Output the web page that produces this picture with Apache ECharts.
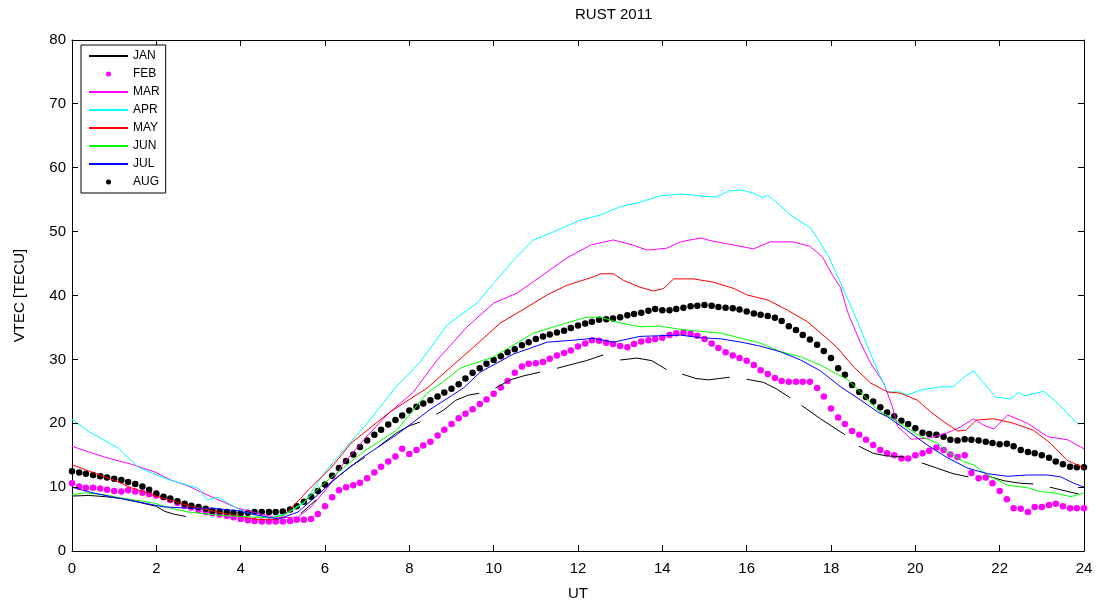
<!DOCTYPE html>
<html><head><meta charset="utf-8">
<script src="https://cdn.jsdelivr.net/npm/echarts/dist/echarts.min.js"></script>
<style>html,body{margin:0;padding:0;background:#fff}#c{width:1096px;height:606px}</style>
</head><body><div id="c"></div>
<script>
const FONT = 'Liberation Sans, Arial, sans-serif';
const months = ['JAN','FEB','MAR','APR','MAY','JUN','JUL','AUG'];
const xTicks = [0,2,4,6,8,10,12,14,16,18,20,22,24];
const yTicks = [0,10,20,30,40,50,60,70,80];

// JAN: broken line (null = gap)
const janH = [0,0.4,0.8,1.2,1.6,2.0,2.2,2.4,2.7, 2.9, 5.43,5.79, 5.9, 5.98,6.3,6.6,6.95, 7.1, 7.26,7.7,8.0,8.26, 8.45, 8.64,8.8,9.1,9.4,9.66, 9.85, 10.04,10.4,10.7,11.1, 11.3, 11.5,11.9,12.2,12.6, 12.8, 13.0,13.4,13.75,14.1, 14.3, 14.47,14.8,15.1,15.35,15.6, 15.8, 16.0,16.4,16.7,17.03, 17.15, 17.3,17.75,18.33, 18.5, 18.66,19.0,19.3,19.75, 19.95, 20.15,20.5,20.9,21.26, 21.5, 21.74,22.1,22.5,22.8, 23.0, 23.19,23.5,23.88];
const janV = [8.6,8.7,8.5,8.2,7.6,7.0,6.2,5.8,5.4, null, 5.9,8.0, null, 9.9,11.6,13.2,14.7, null, 16.3,18.5,19.6,20.2, null, 21.4,22.0,23.6,24.4,24.7, null, 25.5,26.8,27.4,28.0, null, 28.6,29.3,29.8,30.7, null, 29.9,30.2,29.8,28.4, null, 27.7,27.0,26.8,27.0,27.2, null, 26.9,26.4,25.4,24.0, null, 22.8,20.7,18.2, null, 16.4,15.3,14.9,14.7, null, 13.8,13.0,12.1,11.6, null, 11.7,11.0,10.6,10.5, null, 10.0,9.5,8.9];

// FEB and AUG: dotted series, 10-minute samples
const dotH = [0,0.17,0.33,0.5,0.67,0.83, 1,1.17,1.33,1.5,1.67,1.83, 2,2.17,2.33,2.5,2.67,2.83, 3,3.17,3.33,3.5,3.67,3.83, 4,4.17,4.33,4.5,4.67,4.83, 5,5.17,5.33,5.5,5.67,5.83, 6,6.17,6.33,6.5,6.67,6.83, 7,7.17,7.33,7.5,7.67,7.83, 8,8.17,8.33,8.5,8.67,8.83, 9,9.17,9.33,9.5,9.67,9.83, 10,10.17,10.33,10.5,10.67,10.83, 11,11.17,11.33,11.5,11.67,11.83, 12,12.17,12.33,12.5,12.67,12.83, 13,13.17,13.33,13.5,13.67,13.83, 14,14.17,14.33,14.5,14.67,14.83, 15,15.17,15.33,15.5,15.67,15.83, 16,16.17,16.33,16.5,16.67,16.83, 17,17.17,17.33,17.5,17.67,17.83, 18,18.17,18.33,18.5,18.67,18.83, 19,19.17,19.33,19.5,19.67,19.83, 20,20.17,20.33,20.5,20.67,20.83, 21,21.17,21.33,21.5,21.67,21.83, 22,22.17,22.33,22.5,22.67,22.83, 23,23.17,23.33,23.5,23.67,23.83, 24];
const febV = [10.6,10.1,9.9,9.9,9.8,9.6, 9.4,9.3,9.5,9.3,9.1,8.9, 8.7,8.4,8.0,7.5,7.1,6.8, 6.4,6.1,5.9,5.7,5.5,5.3, 5.0,4.8,4.7,4.6,4.6,4.6, 4.6,4.7,4.9,4.9,5.0,5.8, 7.0,8.4,9.5,10.0,10.3,10.7, 11.4,12.3,13.2,14.0,14.8,16.0, 15.2,15.8,16.5,17.1,18.1,19.0, 19.9,20.8,21.5,22.2,23.0,23.7, 24.6,25.6,26.6,27.9,28.9,29.3, 29.4,29.6,30.1,30.6,31.0,31.4, 32.0,32.5,33.0,32.9,32.6,32.4, 32.1,31.9,32.4,32.8,33.0,33.2, 33.4,33.8,34.1,34.2,34.0,33.7, 33.2,32.5,31.8,31.1,30.6,30.2, 29.8,29.1,28.3,27.7,27.1,26.6, 26.5,26.5,26.5,26.5,25.5,24.2, 22.3,20.9,19.9,18.8,18.2,17.4, 16.6,15.8,15.3,15.0,14.5,14.5, 15.0,15.3,15.7,16.2,15.8,15.1, 14.7,15.0,12.2,11.4,11.5,10.6, 9.4,8.1,6.7,6.6,6.1,6.9, 6.9,7.2,7.4,7.0,6.7,6.7, 6.7];
const augV = [12.5,12.3,12.1,11.9,11.7,11.5, 11.3,11.1,10.8,10.5,10.1,9.6, 9.0,8.5,8.2,7.8,7.4,7.1, 6.9,6.6,6.3,6.2,6.1,6.0, 5.9,6.0,6.1,6.1,6.1,6.1, 6.2,6.5,7.0,7.7,8.5,9.4, 10.4,11.8,13.0,14.1,15.1,16.3, 17.3,18.2,19.0,19.8,20.5,21.2, 22.0,22.6,23.1,23.6,24.2,24.8, 25.4,26.1,27.0,27.9,28.6,29.3, 29.9,30.5,31.1,31.6,32.2,32.7, 33.2,33.6,33.9,34.2,34.5,34.9, 35.3,35.6,35.9,36.2,36.3,36.4, 36.6,36.9,37.1,37.3,37.6,37.9, 37.7,37.7,37.9,38.1,38.3,38.4, 38.5,38.4,38.2,38.1,38.0,37.8, 37.5,37.2,37.0,36.8,36.5,36.0, 35.2,34.6,33.8,33.1,32.3,31.3, 30.2,28.6,27.6,26.0,24.9,24.1, 23.4,22.5,21.7,21.1,20.4,19.9, 19.2,18.5,18.3,18.2,17.9,17.4, 17.3,17.5,17.4,17.3,17.1,16.9, 16.7,16.8,16.4,15.8,15.5,15.3, 15.0,14.6,14.0,13.6,13.2,13.1, 13.1];

const marH = [0,0.77,1.4,1.95,2.35,2.75,3.3,3.93,4.41,4.89,5.36,5.67,6.07,6.45,7.0,7.5,8.1,8.66,9.37,10,10.56,11.1,11.74,12.3,12.84,13.3,13.64,14.1,14.43,14.9,15.2,15.7,16.16,16.56,17.1,17.5,17.8,18.06,18.23,18.4,18.54,18.7,18.94,19.25,19.46,19.58,19.9,20.36,20.76,21.07,21.38,21.62,21.86,22.19,22.66,23.14,23.62,24];
const marV = [16.4,14.7,13.6,12.4,11.1,10.2,8.5,6.7,5.9,5.2,5.3,6.9,10,13.8,18,21.5,24.9,29.9,35.1,38.8,40.4,42.9,45.9,47.9,48.7,47.9,47.1,47.4,48.4,49,48.5,47.9,47.3,48.4,48.4,47.7,46,42.9,41.2,37.3,35.1,32.6,29.4,26.3,22.5,19.5,17.5,17.7,18.5,19.4,20.7,19.7,19.1,21.3,20,17.9,17.4,16];

const aprH = [0,0.45,1.1,1.57,2.28,3.0,3.2,3.47,4.07,4.7,5.1,5.5,5.98,6.6,7.0,7.3,7.66,8.26,8.9,9.6,10.0,10.46,10.94,11.4,12.05,12.53,13.0,13.47,13.95,14.43,14.9,15.26,15.6,15.9,16.16,16.37,16.5,16.7,17.1,17.5,17.75,17.95,18.23,18.54,18.87,19.1,19.34,19.65,19.8,20.13,20.6,20.9,21.15,21.38,21.6,21.9,22.26,22.45,22.6,23.04,23.3,23.6,23.85,24];
const aprV = [20.6,18.5,16.1,13.1,11.2,9.8,8.0,8.4,6.1,5.2,5.9,7.5,12.2,17,20,22.5,25.5,29.6,35.4,38.8,41.9,45.5,48.7,49.9,51.8,52.6,53.9,54.6,55.6,55.9,55.6,55.4,56.4,56.5,56.0,55.3,55.7,54.6,52.3,50.7,48.2,46,41.9,37.3,32,28.3,24.9,24.9,24.4,25.2,25.7,25.7,27.2,28.2,26.5,24.1,23.8,24.8,24.3,25,23.6,21.6,19.9,20];

const mayH = [0,0.45,1.0,1.4,2.04,2.82,3.6,4.41,4.89,5.2,5.67,6.14,6.62,7.55,8.42,8.9,9.52,10.16,10.8,11.27,11.74,12.36,12.53,12.84,13.07,13.47,13.79,14.03,14.27,14.74,15.2,15.7,16.0,16.5,16.97,17.44,17.9,18.15,18.54,18.94,19.34,19.65,20.05,20.36,20.68,21.0,21.2,21.45,21.86,22.33,22.8,23.2,23.6,24];
const mayV = [13.5,12.4,11.1,9.9,8.5,7.0,5.9,4.9,4.9,6.7,10,13,16.9,21.8,25.5,28.3,31.9,35.7,38.2,40.1,41.6,42.9,43.4,43.4,42.4,41.3,40.7,41.1,42.6,42.6,42.1,41.1,40.1,39.3,37.7,35.9,33.3,31.8,28.8,26.3,24.9,24.7,23.6,21.8,20.2,18.8,18.9,20.5,20.7,20,18.9,16.9,14.2,13.0];

const junH = [0,0.3,0.77,1.17,1.95,2.35,2.75,3.5,4.3,4.72,5.02,5.5,5.98,6.45,6.9,7.7,8.42,8.8,9.2,10,10.46,10.94,11.58,12.2,12.53,13.0,13.47,13.95,14.43,14.9,15.4,15.87,16.3,16.8,17.28,17.75,18.06,18.4,18.7,19.1,19.6,20.13,20.53,20.76,21.15,21.38,21.71,22.19,22.66,22.97,23.28,23.69,24];
const junV = [8.8,9.1,8.8,8.3,7.5,6.7,6.1,5.6,5.3,5.2,5.6,7.7,10.6,13.1,15.5,18.9,24.7,26.5,28.6,30.4,32.2,34.1,35.4,36.6,36.6,35.7,35.1,35.2,34.7,34.4,34.1,33.3,32.6,31.2,30.4,29.1,28,26.8,24.9,22.1,20.2,17.9,16.9,15.5,14,13.5,11.9,10.3,9.9,9.3,9.1,8.5,9.1];

const julH = [0,0.37,0.92,1.57,2.18,2.82,3.3,3.93,4.41,4.89,5.36,5.83,6.3,6.9,7.7,8.5,9.0,9.3,9.68,10.46,11.27,11.9,12.36,12.84,13.47,14.43,14.9,15.4,15.87,16.3,16.8,17.28,17.75,18.23,18.62,19.1,19.34,19.8,20.28,20.76,21.23,21.71,22.19,22.66,23.14,23.45,23.76,24];
const julV = [10,9.3,8.5,7.7,6.9,6.7,6.7,6.3,5.6,5.0,6.1,8.8,11.6,14.7,18.2,22.2,24.3,25.6,28.0,30.8,32.7,33,33.3,32.7,33.6,33.8,33.4,33.2,32.7,32.1,31.2,29.9,28.2,25.7,24,21.8,21.0,18.9,16.6,14.6,13,12.1,11.7,11.9,11.9,11.6,10.6,10.0];

function pairs(h, v) { return h.map((x, i) => [x, v[i]]); }

function lineSeries(name, h, v, color) {
  return { name, type: 'line', data: pairs(h, v), showSymbol: false, symbol: 'none',
    connectNulls: false, lineStyle: { color, width: 1 }, itemStyle: { color }, animation: false, silent: true };
}
function dotSeries(name, v, color) {
  return { name, type: 'scatter', data: pairs(dotH, v), symbol: 'circle', symbolSize: 6.5,
    itemStyle: { color, opacity: 1 }, animation: false, silent: true };
}

// Inward ticks on all four sides of the box, placed through the axes' own scales
const TICK = 6;
const crisp = p => Math.round(p - 0.5) + 0.5;
const yMin = yTicks[0], yMax = yTicks[yTicks.length - 1];
const xMin = xTicks[0], xMax = xTicks[xTicks.length - 1];
const tickStyle = { stroke: '#000', lineWidth: 1 };
const xTickSeries = {
  type: 'custom', name: 'xticks', silent: true, clip: false, animation: false, z: 10,
  data: xTicks.map(v => [v, yMin]),
  renderItem: (params, api) => {
    const b = api.coord([api.value(0), yMin]);
    const t = api.coord([api.value(0), yMax]);
    const x = crisp(b[0]);
    return { type: 'group', children: [
      { type: 'line', shape: { x1: x, y1: b[1], x2: x, y2: b[1] - TICK }, style: tickStyle },
      { type: 'line', shape: { x1: x, y1: t[1], x2: x, y2: t[1] + TICK }, style: tickStyle }
    ] };
  }
};
const yTickSeries = {
  type: 'custom', name: 'yticks', silent: true, clip: false, animation: false, z: 10,
  data: yTicks.map(v => [xMin, v]),
  renderItem: (params, api) => {
    const l = api.coord([xMin, api.value(1)]);
    const r = api.coord([xMax, api.value(1)]);
    const y = crisp(l[1]);
    return { type: 'group', children: [
      { type: 'line', shape: { x1: l[0], y1: y, x2: l[0] + TICK, y2: y }, style: tickStyle },
      { type: 'line', shape: { x1: r[0], y1: y, x2: r[0] - TICK, y2: y }, style: tickStyle }
    ] };
  }
};

function axisLine() { return { show: true, onZero: false, lineStyle: { color: '#000', width: 1 } }; }

const dotNames = ['FEB', 'AUG'];
const legendData = months.map(m => dotNames.includes(m) ? { name: m } :
  { name: m, itemStyle: { opacity: 0, borderWidth: 0 } });

const chart = echarts.init(document.getElementById('c'), null, { renderer: 'canvas' });
chart.setOption({
  animation: false,
  backgroundColor: '#fff',
  title: { text: 'RUST 2011', left: 575, top: 7, padding: 0,
    textStyle: { fontFamily: FONT, fontSize: 15, fontWeight: 'normal', color: '#000' } },
  grid: { left: 72, right: 12, top: 40, bottom: 55, containLabel: false, show: false },
  legend: {
    orient: 'vertical', left: 81, top: 45, z: 20,
    padding: [4, 6, 4, 7], itemGap: 4, itemWidth: 39, itemHeight: 5,
    backgroundColor: '#fff', borderColor: '#000', borderWidth: 1, borderRadius: 0,
    textStyle: { fontFamily: FONT, fontSize: 12, lineHeight: 14, color: '#000' },
    data: legendData, selectedMode: false
  },
  xAxis: [
    { type: 'value', min: xMin, max: xMax, interval: 2, position: 'bottom',
      name: 'UT', nameLocation: 'middle', nameGap: 35,
      nameTextStyle: { fontFamily: FONT, fontSize: 15, color: '#000' },
      axisLine: axisLine(), axisTick: { show: false }, splitLine: { show: false },
      axisLabel: { show: true, margin: 10, fontFamily: FONT, fontSize: 15, color: '#000',
        formatter: v => xTicks.includes(v) ? String(v) : '' } },
    { type: 'value', min: xMin, max: xMax, interval: 2, position: 'top',
      axisLine: axisLine(), axisTick: { show: false }, splitLine: { show: false },
      axisLabel: { show: false } }
  ],
  yAxis: [
    { type: 'value', min: yMin, max: yMax, interval: 10, position: 'left',
      name: 'VTEC [TECU]', nameLocation: 'middle', nameGap: 45,
      nameTextStyle: { fontFamily: FONT, fontSize: 15, color: '#000' },
      axisLine: axisLine(), axisTick: { show: false }, splitLine: { show: false },
      axisLabel: { show: true, margin: 6, fontFamily: FONT, fontSize: 15, color: '#000',
        formatter: v => yTicks.includes(v) ? String(v) : '' } },
    { type: 'value', min: yMin, max: yMax, interval: 10, position: 'right',
      axisLine: axisLine(), axisTick: { show: false }, splitLine: { show: false },
      axisLabel: { show: false } }
  ],
  series: [
    lineSeries('JAN', janH, janV, '#000000'),
    dotSeries('FEB', febV, '#ff00ff'),
    lineSeries('MAR', marH, marV, '#ff00ff'),
    lineSeries('APR', aprH, aprV, '#00ffff'),
    lineSeries('MAY', mayH, mayV, '#ff0000'),
    lineSeries('JUN', junH, junV, '#00ff00'),
    lineSeries('JUL', julH, julV, '#0000ff'),
    dotSeries('AUG', augV, '#000000'),
    xTickSeries,
    yTickSeries
  ]
});
</script></body></html>
